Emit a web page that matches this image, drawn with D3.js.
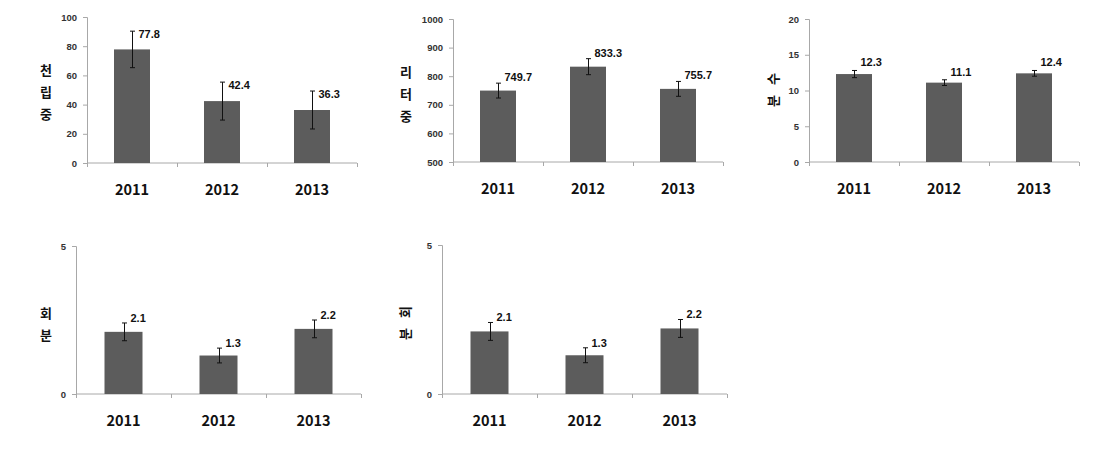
<!DOCTYPE html>
<html>
<head>
<meta charset="utf-8">
<script src="https://cdn.jsdelivr.net/npm/d3@7"></script>
<style>
  body { margin: 0; background: #fff; }
  svg text { font-family: "Noto Sans CJK KR", "Liberation Sans", sans-serif; }
</style>
</head>
<body>
<svg id="chart" width="1104" height="457"></svg>
<script>
// data
var years = ["2011", "2012", "2013"];

var grainWeight = [77.8, 42.4, 36.3];      // 천립중
var grainWeightErr = [12.5, 13, 13];

var literWeight = [749.7, 833.3, 755.7];   // 리터중
var literWeightErr = [26, 28, 26];

var tillerCount = [12.3, 11.1, 12.4];      // 분수
var tillerCountErr = [0.5, 0.4, 0.4];

var tillerRate1 = [2.1, 1.3, 2.2];         // 분회
var tillerRate1Err = [0.3, 0.25, 0.3];

var tillerRate2 = [2.1, 1.3, 2.2];
var tillerRate2Err = [0.3, 0.25, 0.3];

var ticks1 = [0, 20, 40, 60, 80, 100];
var ticks2 = [500, 600, 700, 800, 900, 1000];
var ticks3 = [0, 5, 10, 15, 20];
var ticks45 = [0, 5];

// panels (layout only)
var panels = [
    {vals: grainWeight, errs: grainWeightErr, ticks: ticks1, dom: [0, 100], labDy: 3,
     x0: 87, x1: 357, yTop: 17, yBot: 163, label: ["천", "립", "중"], lx: 46, ly: 70, rotate: false},
    {vals: literWeight, errs: literWeightErr, ticks: ticks2, dom: [500, 1000], labDy: -6,
     x0: 453, x1: 723, yTop: 19, yBot: 162, label: ["리", "터", "중"], lx: 406, ly: 72, rotate: false},
    {vals: tillerCount, errs: tillerCountErr, ticks: ticks3, dom: [0, 20], labDy: -8,
     x0: 809, x1: 1079, yTop: 19, yBot: 162, label: ["분", "수"], lx: 773, ly: 101, rotate: true},
    {vals: tillerRate1, errs: tillerRate1Err, ticks: ticks45, dom: [0, 5], labDy: -5,
     x0: 76, x1: 361, yTop: 246, yBot: 394, label: ["회", "분"], lx: 46, ly: 313, rotate: false},
    {vals: tillerRate2, errs: tillerRate2Err, ticks: ticks45, dom: [0, 5], labDy: -5,
     x0: 442, x1: 727, yTop: 245, yBot: 394, label: ["분", "회"], lx: 405, ly: 334, rotate: true}
];

var svg = d3.select("#chart");
var axisColor = "#a8a8a8";
var barColor = "#5c5c5c";

panels.forEach(function (p) {
    var g = svg.append("g");

    var x = d3.scaleBand()
        .domain(years)
        .range([p.x0, p.x1])
        .paddingInner(0.6)
        .paddingOuter(0.3);

    var y = d3.scaleLinear()
        .domain(p.dom)
        .range([p.yBot, p.yTop]);

    var step = x.step();

    // y axis
    var yAxis = d3.axisLeft(y)
        .tickValues(p.ticks)
        .tickFormat(d3.format("d"))
        .tickSize(4)
        .tickPadding(6);
    var gY = g.append("g")
        .attr("transform", "translate(" + p.x0 + ",0)")
        .call(yAxis);
    gY.select(".domain").attr("stroke", axisColor);
    gY.selectAll(".tick line").attr("stroke", axisColor);
    gY.selectAll(".tick text")
        .attr("fill", "#333")
        .style("font-size", "9.5px")
        .style("font-weight", "bold")
        .style("font-family", "'Liberation Sans', sans-serif");

    // x axis line + category dividers
    g.append("line")
        .attr("x1", p.x0).attr("x2", p.x1)
        .attr("y1", p.yBot).attr("y2", p.yBot)
        .attr("stroke", axisColor);

    g.selectAll(".div")
        .data(d3.range(years.length + 1))
        .enter().append("line")
        .attr("x1", function (i) { return Math.round(p.x0 + i * step) + 0.5; })
        .attr("x2", function (i) { return Math.round(p.x0 + i * step) + 0.5; })
        .attr("y1", p.yBot)
        .attr("y2", p.yBot + 4)
        .attr("stroke", axisColor);

    // bars
    g.selectAll(".bar")
        .data(p.vals)
        .enter().append("rect")
        .attr("class", "bar")
        .attr("x", function (d, i) { return x(years[i]); })
        .attr("width", x.bandwidth())
        .attr("y", function (d) { return y(d); })
        .attr("height", function (d) { return p.yBot - y(d); })
        .attr("fill", barColor);

    // error bars
    p.vals.forEach(function (d, i) {
        var cx = Math.round(x(years[i]) + x.bandwidth() / 2) + 0.5;
        var top = y(d + p.errs[i]), bot = y(d - p.errs[i]);
        g.append("line")
            .attr("x1", cx).attr("x2", cx)
            .attr("y1", top).attr("y2", bot)
            .attr("stroke", "#111").attr("stroke-width", 1);
        [top, bot].forEach(function (yy) {
            g.append("line")
                .attr("x1", cx - 2.5).attr("x2", cx + 2.5)
                .attr("y1", yy).attr("y2", yy)
                .attr("stroke", "#111").attr("stroke-width", 1);
        });
        // value label
        g.append("text")
            .attr("x", cx + 6)
            .attr("y", top + p.labDy)
            .attr("dy", "0.35em")
            .attr("fill", "#111")
            .style("font-size", "11px")
            .style("font-weight", "bold")
            .style("font-family", "'Liberation Sans', sans-serif")
            .text(d.toFixed(1));
    });

    // year labels
    g.selectAll(".year")
        .data(years)
        .enter().append("text")
        .attr("x", function (d) { return x(d) + x.bandwidth() / 2; })
        .attr("y", p.yBot + 27)
        .attr("dy", "0.35em")
        .attr("text-anchor", "middle")
        .attr("fill", "#111")
        .style("font-size", "14.5px")
        .style("font-weight", "bold")
        .text(function (d) { return d; });

    // y title: stacked characters, upright or turned
    g.selectAll(".ylab")
        .data(p.label)
        .enter().append("text")
        .attr("transform", function (d, i) {
            if (p.rotate) return "translate(" + p.lx + "," + (p.ly - i * 22) + ") rotate(-90)";
            return "translate(" + p.lx + "," + (p.ly + i * 22) + ")";
        })
        .attr("dy", "0.35em")
        .attr("text-anchor", "middle")
        .attr("fill", "#111")
        .style("font-size", "13px")
        .style("font-weight", "bold")
        .text(function (d) { return d; });
});
</script>
</body>
</html>
